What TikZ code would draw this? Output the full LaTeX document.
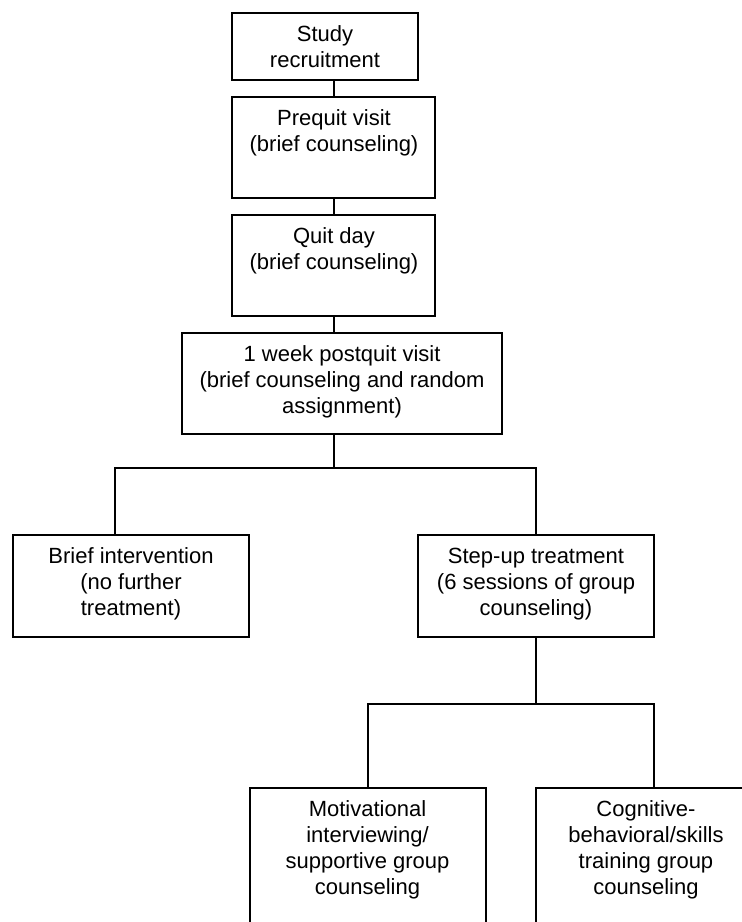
\documentclass[tikz,border=0pt]{standalone}
\usepackage{fontspec}
\setmainfont{Liberation Sans}
\usetikzlibrary{calc}
\tikzset{
  box/.style={draw=black, line width=2pt, rectangle, inner sep=0pt, outer sep=0pt, anchor=north west},
  txt/.style={anchor=north, align=center, inner sep=0pt, outer sep=0pt, font=\fontsize{22}{26}\selectfont},
  conn/.style={draw=black, line width=2pt}
}
\newcommand{\firstline}{\rule{0pt}{20pt}}
\begin{document}
\begin{tikzpicture}[x=1pt,y=-1pt]
\clip (0,0) rectangle (742,922);
\fill[white] (0,0) rectangle (742,922);
% boxes
\node[box, minimum width=186pt, minimum height=67pt] (b1) at (232,13) {};
\node[box, minimum width=203pt, minimum height=101pt] (b2) at (232,97) {};
\node[box, minimum width=203pt, minimum height=101pt] (b3) at (232,215) {};
\node[box, minimum width=320pt, minimum height=101pt] (b4) at (182,333) {};
\node[box, minimum width=236pt, minimum height=102pt] (b5) at (13,535) {};
\node[box, minimum width=236pt, minimum height=102pt] (b6) at (418,535) {};
\node[box, minimum width=236pt, minimum height=200pt] (b7) at (249.5,788) {};
\node[box, minimum width=236pt, minimum height=200pt] (b8) at (536,788) {};
% texts
\node[txt] (t1) at (325,21) {\firstline Study\\recruitment};
\node[txt] (t2) at (334,105) {\firstline Prequit visit\\(brief counseling)};
\node[txt] (t3) at (334,223) {\firstline Quit day\\(brief counseling)};
\node[txt] (t4) at (342,341) {\firstline 1 week postquit visit\\(brief counseling and random\\assignment)};
\node[txt] (t5) at (131,543) {\firstline Brief intervention\\(no further\\treatment)};
\node[txt] (t6) at (536,543) {\firstline Step-up treatment\\(6 sessions of group\\counseling)};
\node[txt] (t7) at (367.5,796) {\firstline Motivational\\interviewing/\\supportive group\\counseling};
\node[txt] (t8) at (646,796) {\firstline Cognitive-\\behavioral/skills\\training group\\counseling};
% junctions
\coordinate (j1) at (334,468);
\coordinate (j2) at (536,704);
% connectors
\draw[conn] (b2.north -| j1) -- (b1.south -| j1);
\draw[conn] (b2.south -| j1) -- (b3.north -| j1);
\draw[conn] (b3.south -| j1) -- (b4.north -| j1);
\draw[conn] (b4.south -| j1) -- (j1);
\draw[conn] (j1) -| ([xshift=-16pt]b5.north);
\draw[conn] (j1) -| (b6.north);
\draw[conn] (b6.south) -- (j2);
\draw[conn] (j2) -| (b7.north);
\draw[conn] (j2) -| (b8.north);
\end{tikzpicture}
\end{document}
